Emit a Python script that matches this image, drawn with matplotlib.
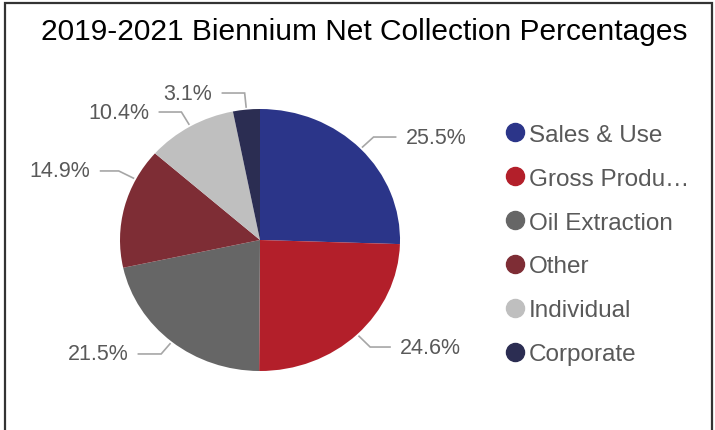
import numpy as np
import matplotlib.pyplot as plt
from matplotlib.lines import Line2D
from matplotlib.patches import Rectangle

plt.rcParams['font.family'] = ['Liberation Sans', 'DejaVu Sans']

# Net collections by tax type, percent of total
categories = ['Sales & Use', 'Gross Produ\u2026', 'Oil Extraction', 'Other', 'Individual', 'Corporate']
shares = [25.5, 24.6, 21.5, 14.9, 10.4, 3.1]
colors = ['#2B3589', '#B31F2A', '#666666', '#7E2D35', '#BFBFBF', '#2B2D52']

# where each percentage label sits (data units) and tweaks to the leader angle
label_x = [1.04, 1.00, -0.94, -1.21, -0.79, -0.34]
label_y = [0.786, -0.817, -0.870, 0.527, 0.977, 1.122]
angle_nudge = [0, 0, 0, -13, 0, 0]

W, H = 715, 431
fig = plt.figure(figsize=(W / 100, H / 100), dpi=100)

# pie axes: centre at (260, 241) px, radius 140 px wide and 131 px tall
ax = fig.add_axes([0, 0, 520 / W, (H - 60) / H])
wedges, _ = ax.pie(shares, colors=colors, startangle=90, counterclock=False,
                   radius=1.0, wedgeprops=dict(linewidth=0))
ax.set_aspect('auto')
ax.set_xlim(-260 / 140, 260 / 140)
ax.set_ylim(-(H - 241) / 131, (241 - 60) / 131)
ax.axis('off')

text_color = '#595959'
line_color = '#A6A6A6'
gap = 10 / 140
for w, s, lx, ly, nud in zip(wedges, shares, label_x, label_y, angle_nudge):
    a = np.deg2rad((w.theta1 + w.theta2) / 2 + nud)
    sx, sy = 1.02 * np.cos(a), 1.02 * np.sin(a)
    t = (ly - sy) / np.sin(a)
    ex = sx + t * np.cos(a)
    right = lx > 0
    hx = lx - gap if right else lx + gap
    ax.plot([sx, ex, hx], [sy, ly, ly], color=line_color, lw=1.2,
            solid_joinstyle='miter', clip_on=False)
    ax.text(lx, ly, f'{s}%', ha='left' if right else 'right', va='center',
            fontsize=15.5, color=text_color)

fig.text(364 / W, 1 - 32 / H, '2019-2021 Biennium Net Collection Percentages',
         ha='center', va='center', fontsize=21.5, color='black')

handles = [Line2D([], [], marker='o', linestyle='none', markersize=13,
                  markerfacecolor=c, markeredgecolor=c) for c in colors]
fig.legend(handles, categories, loc='upper left',
           bbox_to_anchor=(498 / W, 1 - 115 / H), frameon=False,
           fontsize=17.5, labelcolor=text_color, handlelength=0.58,
           handletextpad=0.3, labelspacing=0.9, borderaxespad=0)

# outer frame
fig.add_artist(Rectangle((5 / W, -0.1), 707 / W, 1.1 - 4 / H,
                         transform=fig.transFigure, fill=False,
                         edgecolor='#333333', linewidth=1.6))

fig.savefig('out.png', dpi=100, facecolor='white')
